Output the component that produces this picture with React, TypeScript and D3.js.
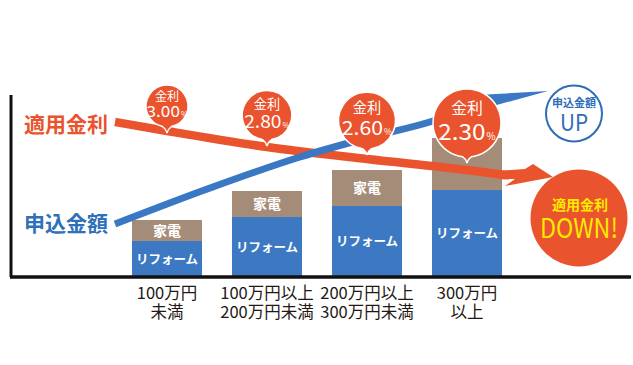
import React from "react";
import * as d3 from "d3";

// categories (two-line tick labels)
const categories = ["100万円未満", "100万円以上200万円未満", "200万円以上300万円未満", "300万円以上"];
const tickLines = [
  ["100万円", "未満"],
  ["100万円以上", "200万円未満"],
  ["200万円以上", "300万円未満"],
  ["300万円", "以上"],
];

// stacked bar values (arbitrary units)
const reform = [36, 60, 71, 87];
const appliance = [21, 26, 36, 52];

// interest rates shown in the bubbles
const rates = [3.0, 2.8, 2.6, 2.3];

// trend arrows: [category position, value]
const rateTrend: [number, number][] = [[-0.52, 155], [0, 146], [1, 130], [2, 118], [3, 107], [3.38, 102]];
const amountTrend: [number, number][] = [[-0.52, 53], [0.43, 89], [1.33, 120], [2, 139], [2.66, 156], [3.2, 176]];

const W = 633;
const H = 365;
const RED = "#E9532D";
const BLUE = "#3A78C4";
const BAR_BLUE = "#3D78C2";
const BROWN = "#A58C79";
const FONT = "'Noto Sans CJK JP', 'Noto Sans', sans-serif";

const App: React.FC = () => {
  const x = d3.scaleBand<string>().domain(categories).range([117, 517]).paddingInner(0.3).paddingOuter(0.15);
  const y = d3.scaleLinear().domain([0, 180]).range([277, 97]);
  const pos = d3.scaleLinear().domain([0, 3]).range([x(categories[0])! + x.bandwidth() / 2, x(categories[3])! + x.bandwidth() / 2]);
  const rScale = d3.scaleLinear().domain([3.0, 2.3]).range([21, 34]);

  const rows = categories.map((c, i) => ({ cat: c, reform: reform[i], appliance: appliance[i] }));
  const stacked = d3.stack<any>().keys(["reform", "appliance"])(rows);

  const line = d3.line<[number, number]>().x((d) => pos(d[0])).y((d) => y(d[1])).curve(d3.curveMonotoneX);

  const redPx = rateTrend.map((d) => [pos(d[0]), y(d[1])]);
  const bluePx = amountTrend.map((d) => [pos(d[0]), y(d[1])]);
  const redAt = d3.scaleLinear().domain(redPx.map((p) => p[0])).range(redPx.map((p) => p[1]));

  const rEnd = redPx[redPx.length - 1];
  const bEnd = bluePx[bluePx.length - 1];
  const redHead = [
    [rEnd[0] - 5, rEnd[1] - 4.2], [rEnd[0] + 20, rEnd[1] - 6], [rEnd[0] + 28, rEnd[1] - 11],
    [rEnd[0] + 48, rEnd[1] + 2], [rEnd[0], rEnd[1] + 11], [rEnd[0] + 10, rEnd[1] + 4], [rEnd[0] - 5, rEnd[1] + 4.2],
  ];
  const blueHead = [
    [bEnd[0] - 5, bEnd[1] - 3.5], [bEnd[0], bEnd[1] - 6.5], [bEnd[0] + 61, bEnd[1] - 10],
    [bEnd[0] + 6, bEnd[1] + 5], [bEnd[0] + 9, bEnd[1] + 2.5], [bEnd[0] - 5, bEnd[1] + 3.5],
  ];
  const poly = (pts: number[][]) => "M" + pts.map((p) => p.join(",")).join("L") + "Z";

  const bubblePath = (cx: number, cy: number, r: number, tip: number) => {
    const w = 4.5;
    const h = Math.sqrt(r * r - w * w);
    return `M${cx + w},${cy + h}A${r},${r} 0 1 0 ${cx - w},${cy + h}Q${cx - 1},${cy + r + 2} ${cx},${tip}Q${cx + 1},${cy + r + 2} ${cx + w},${cy + h}Z`;
  };

  return (
    <svg width={W} height={H} style={{ position: "absolute", left: 0, top: 0, background: "#fff" }} fontFamily={FONT}>
      {/* axes */}
      <line x1={11} x2={11} y1={95} y2={277} stroke="#111" strokeWidth={3} />

      {/* bars */}
      {stacked.map((layer) =>
        layer.map((d, i) => {
          const bx = x(categories[i])!;
          const top = y(d[1]);
          const bot = y(d[0]);
          const isReform = layer.key === "reform";
          // the last appliance label sits under the rate bubble
          const showLabel = isReform || i < categories.length - 1;
          return (
            <g key={layer.key + i}>
              <rect x={bx} y={top} width={x.bandwidth()} height={bot - top} fill={isReform ? BAR_BLUE : BROWN} />
              {showLabel && (
                <text
                  x={bx + x.bandwidth() / 2}
                  y={(top + bot) / 2}
                  dy="0.36em"
                  textAnchor="middle"
                  fill="#fff"
                  fontSize={isReform ? 12.5 : 14}
                  fontWeight="bold"
                >
                  {isReform ? "リフォーム" : "家電"}
                </text>
              )}
            </g>
          );
        })
      )}

      <line x1={10} x2={631} y1={277} y2={277} stroke="#111" strokeWidth={3.5} />

      {/* tick labels */}
      {tickLines.map((ls, i) => (
        <text key={i} x={x(categories[i])! + x.bandwidth() / 2} y={299} textAnchor="middle" fontSize={16.5} fill="#231815">
          {ls.map((t, j) => (
            <tspan key={j} x={x(categories[i])! + x.bandwidth() / 2} dy={j === 0 ? 0 : 19}>
              {t}
            </tspan>
          ))}
        </text>
      ))}

      {/* rate arrow */}
      <path d={line(rateTrend)!} fill="none" stroke={RED} strokeWidth={8.5} />
      <path d={poly(redHead)} fill={RED} />

      {/* amount arrow */}
      <path d={line(amountTrend)!} fill="none" stroke={BLUE} strokeWidth={7} />
      <path d={poly(blueHead)} fill={BLUE} />

      {/* rate bubbles */}
      {rates.map((rate, i) => {
        const cx = pos(i);
        const r = rScale(rate);
        const tip = redAt(cx) + 2 - 3 * i;
        const cy = tip - 6 - r;
        const fs1 = 6 + r * 0.29;
        const fs2 = 5 + r * 0.5;
        const numW = fs2 * 2.15;
        const pctW = fs2 * 0.42;
        const start = cx - (numW + 1 + pctW) / 2;
        const base = cy + 0.27 * r + 0.36 * fs2;
        return (
          <g key={i}>
            <path d={bubblePath(cx, cy, r, tip)} fill={RED} stroke="#fff" strokeWidth={1.5} />
            <text x={cx} y={cy - 0.26 * r} textAnchor="middle" fill="#fff" fontSize={fs1}>
              金利
            </text>
            <text x={start} y={base} fill="#fff" fontSize={fs2} textLength={numW} lengthAdjust="spacingAndGlyphs">
              {rate.toFixed(2)}
            </text>
            <text x={start + numW + 1} y={base} fill="#fff" fontSize={fs2 * 0.45}>
              %
            </text>
          </g>
        );
      })}

      {/* side labels */}
      <text x={24} y={124} dy="0.36em" fill={RED} fontSize={21} fontWeight="bold">
        適用金利
      </text>
      <text x={24} y={223} dy="0.36em" fill="#2E70BA" fontSize={21} fontWeight="bold">
        申込金額
      </text>

      {/* UP badge */}
      <circle cx={574} cy={113.5} r={28} fill="#fff" stroke="#2E6DB8" strokeWidth={2} />
      <text x={574} y={103} dy="0.36em" textAnchor="middle" fill="#2E6DB8" fontSize={11} fontWeight="bold">
        申込金額
      </text>
      <text x={574} y={122.5} dy="0.36em" textAnchor="middle" fill="#2E6DB8" fontSize={23} textLength={28} lengthAdjust="spacingAndGlyphs">
        UP
      </text>

      {/* DOWN badge */}
      <circle cx={579} cy={218} r={48.5} fill={RED} />
      <text x={580} y={205} dy="0.36em" textAnchor="middle" fill="#FFEA00" fontSize={14} fontWeight="bold">
        適用金利
      </text>
      <text x={579} y={228.5} dy="0.36em" textAnchor="middle" fill="#FFEA00" fontSize={27} textLength={78} lengthAdjust="spacingAndGlyphs">
        DOWN!
      </text>
    </svg>
  );
};

export default App;
